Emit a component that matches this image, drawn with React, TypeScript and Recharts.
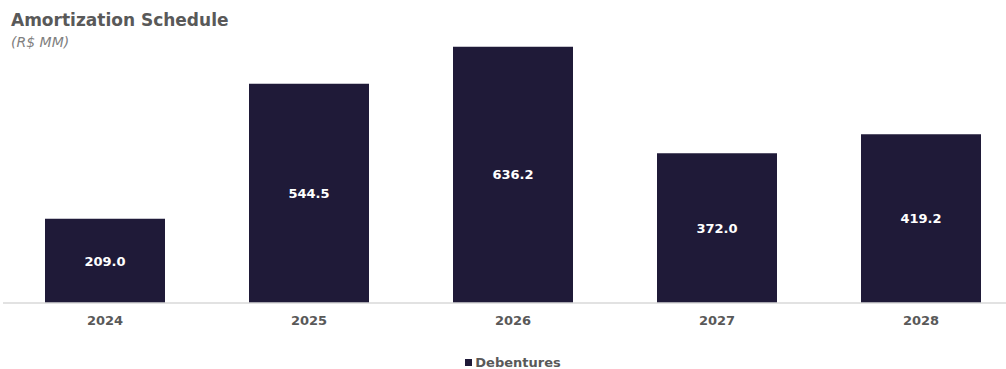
import { BarChart, Bar, XAxis, YAxis, LabelList } from "recharts";

const years = ["2024", "2025", "2026", "2027", "2028"];
const debentures = [209.0, 544.5, 636.2, 372.0, 419.2];

const data = years.map((year, i) => ({ year, debentures: debentures[i] }));

const font = "'DejaVu Sans', Verdana, sans-serif";

export default function App() {
  return (
    <div
      style={{
        position: "absolute",
        left: 0,
        top: 0,
        width: 1006,
        height: 369,
        overflow: "hidden",
        background: "#fff",
        fontFamily: font,
      }}
    >
      <div style={{ position: "absolute", left: 11, top: 10, fontSize: 17, fontWeight: "bold", color: "#595959" }}>
        Amortization Schedule
      </div>
      <div style={{ position: "absolute", left: 11, top: 34, fontSize: 14, fontStyle: "italic", color: "#7f7f7f" }}>
        (R$ MM)
      </div>
      <BarChart
        width={1023}
        height={369}
        data={data}
        margin={{ top: 40, right: 0, left: 3, bottom: 36 }}
        barCategoryGap={42}
      >
        <XAxis
          dataKey="year"
          height={30}
          tickLine={false}
          axisLine={{ stroke: "#d9d9d9", strokeWidth: 1.5 }}
          tickMargin={7}
          tick={{ fill: "#595959", fontSize: 13, fontWeight: "bold", fontFamily: font }}
        />
        <YAxis hide domain={[0, 653]} />
        <Bar dataKey="debentures" fill="#1f1a38" isAnimationActive={false}>
          <LabelList
            dataKey="debentures"
            position="center"
            formatter={(v: number) => v.toFixed(1)}
            style={{ fill: "#ffffff", fontSize: 13, fontWeight: "bold", fontFamily: font }}
          />
        </Bar>
      </BarChart>
      <div
        style={{
          position: "absolute",
          left: 10,
          width: 1006,
          top: 356,
          height: 13,
          lineHeight: "13px",
          textAlign: "center",
          fontSize: 13,
          fontWeight: "bold",
          color: "#595959",
        }}
      >
        <span style={{ display: "inline-block", width: 7, height: 7, background: "#1f1a38", marginRight: 3, verticalAlign: "1px" }} />
        Debentures
      </div>
    </div>
  );
}
